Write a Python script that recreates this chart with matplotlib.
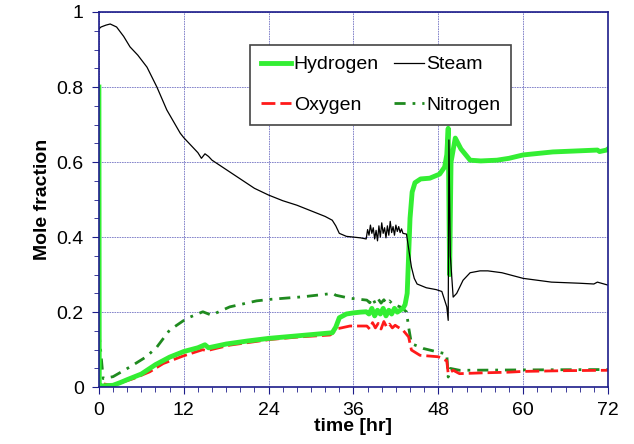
import matplotlib.pyplot as plt
from matplotlib.ticker import MultipleLocator

plt.rcParams['font.family'] = ['Liberation Sans', 'DejaVu Sans']

# Steam mole fraction
t_steam = [0, 0.3, 1, 1.6, 2.5, 3.5, 4.4, 5.5, 6.8, 8.2, 9.6, 11.5, 12, 13, 14, 14.5, 15,
           15.5, 16, 18, 20, 22, 24, 26, 28, 30, 32, 33, 33.5, 34, 35, 36, 37, 37.8, 38.0,
           38.2, 38.4, 38.6, 38.8, 39.0, 39.2, 39.4, 39.6, 39.8, 40.0, 40.2, 40.4, 40.6, 40.8,
           41.0, 41.2, 41.4, 41.6, 41.8, 42.0, 42.2, 42.4, 42.6, 42.8, 43.0, 43.5, 43.8, 44.2,
           44.6, 45, 46.3, 47.7, 48.5, 49.2, 49.4, 49.5, 49.7, 50.1, 50.6, 51.5, 52.5, 53.9,
           55, 57, 60, 62, 64, 68, 70, 70.5, 72]
steam = [0.955, 0.96, 0.965, 0.968, 0.96, 0.935, 0.907, 0.885, 0.853, 0.80, 0.739, 0.677,
         0.665, 0.645, 0.625, 0.61, 0.622, 0.615, 0.605, 0.58, 0.555, 0.53, 0.512, 0.497,
         0.485, 0.47, 0.455, 0.445, 0.43, 0.41, 0.402, 0.40, 0.398, 0.395, 0.42, 0.405, 0.432,
         0.41, 0.425, 0.395, 0.418, 0.39, 0.43, 0.40, 0.438, 0.41, 0.425, 0.398, 0.43, 0.405,
         0.442, 0.412, 0.428, 0.405, 0.432, 0.415, 0.428, 0.412, 0.422, 0.41, 0.408, 0.37,
         0.32, 0.29, 0.275, 0.265, 0.26, 0.255, 0.214, 0.178, 0.659, 0.35, 0.24, 0.25, 0.285,
         0.305, 0.31, 0.31, 0.305, 0.29, 0.285, 0.28, 0.277, 0.275, 0.28, 0.272]

# Hydrogen mole fraction
t_h2 = [0, 0.05, 0.2, 1, 2, 3, 4, 6, 8, 10, 12, 14, 15, 15.5, 18, 21, 24, 27, 30, 33, 33.5,
        34, 35, 36, 37, 37.8, 38.2, 38.6, 39, 39.4, 39.8, 40.2, 40.6, 41, 41.4, 41.8, 42.2,
        42.6, 43, 43.3, 43.6, 43.8, 44, 44.3, 44.7, 45.5, 46.8, 48.2, 48.9, 49.2, 49.4,
        49.6, 49.8, 50.4, 51.2, 52.5, 54, 56.3, 58, 60, 64.2, 68, 70.5, 70.8, 71.8, 72]
h2 = [0.8, 0.005, 0.003, 0.004, 0.005, 0.012, 0.02, 0.035, 0.06, 0.08, 0.095, 0.105, 0.113,
      0.105, 0.115, 0.123, 0.13, 0.135, 0.14, 0.145, 0.16, 0.185, 0.195, 0.198, 0.20, 0.201,
      0.195, 0.21, 0.19, 0.205, 0.195, 0.21, 0.19, 0.205, 0.195, 0.21, 0.2, 0.205, 0.21,
      0.22, 0.25, 0.35, 0.45, 0.52, 0.545, 0.555, 0.557, 0.568, 0.587, 0.62, 0.69, 0.30,
      0.60, 0.664, 0.635, 0.605, 0.603, 0.605, 0.61, 0.619, 0.627, 0.63, 0.632, 0.628,
      0.632, 0.635]

# Oxygen mole fraction
t_o2 = [0, 0.1, 2, 4.9, 7.2, 9.1, 11.9, 14.7, 15.2, 18.5, 24.2, 28.4, 32.7, 33.1, 33.8,
        35.5, 37.9, 38.3, 38.7, 39.1, 39.5, 39.9, 40.3, 40.7, 41.1, 41.5, 41.9, 42.3, 43,
        43.8, 44.2, 45.4, 48, 49.2, 49.4, 50.1, 51, 54, 58, 60, 66, 72]
o2 = [0.2, 0.01, 0.005, 0.023, 0.041, 0.063, 0.083, 0.1, 0.097, 0.112, 0.127, 0.134, 0.139,
      0.145, 0.156, 0.163, 0.163, 0.155, 0.172, 0.158, 0.17, 0.155, 0.175, 0.16, 0.168,
      0.158, 0.165, 0.16, 0.152, 0.134, 0.099, 0.085, 0.081, 0.07, 0.036, 0.045, 0.036,
      0.038, 0.04, 0.042, 0.044, 0.045]

# Nitrogen mole fraction
t_n2 = [0, 0.6, 2, 4.4, 6.7, 8.2, 10, 12.4, 14.7, 15.9, 18.5, 22.3, 24.2, 28.9, 33.1, 33.5,
        35.5, 37.9, 38.3, 38.7, 39.1, 39.5, 39.9, 40.3, 40.7, 41.1, 41.5, 42.6, 43.5, 43.8,
        44.2, 45.9, 49.2, 49.4, 49.7, 51, 60, 72]
n2 = [0.15, 0.023, 0.028, 0.054, 0.081, 0.107, 0.152, 0.183, 0.201, 0.192, 0.214, 0.23,
      0.234, 0.241, 0.25, 0.245, 0.237, 0.232, 0.225, 0.238, 0.222, 0.235, 0.224, 0.233,
      0.222, 0.23, 0.222, 0.214, 0.201, 0.16, 0.116, 0.103, 0.088, 0.027, 0.05, 0.045,
      0.046, 0.047]

navy = '#1c1c8a'
fs = 14

fig = plt.figure(figsize=(6.34, 4.44), dpi=100)
ax = fig.add_axes([0.156, 0.128, 0.803, 0.845])

ax.plot(t_n2, n2, color='#1f8a1f', lw=2, dashes=(4, 2.5, 1, 2.5), label='Nitrogen')
ax.plot(t_o2, o2, color='#ff1a1a', lw=2, dashes=(5, 1.8), label='Oxygen')
ax.plot(t_h2, h2, color='#33ee33', lw=3.5, label='Hydrogen')
ax.plot(t_steam, steam, color='black', lw=0.9, label='Steam')

ax.set_xlim(0, 72)
ax.set_ylim(0, 1)
ax.xaxis.set_major_locator(MultipleLocator(12))
ax.xaxis.set_minor_locator(MultipleLocator(2))
ax.yaxis.set_minor_locator(MultipleLocator(0.05))
ax.set_yticks([0, 0.2, 0.4, 0.6, 0.8, 1])
ax.set_yticklabels(['0', '0.2', '0.4', '0.6', '0.8', '1'])

ax.grid(True, which='major', color='#7373c4', lw=0.6, ls=(0, (2, 1)))
for s in ax.spines.values():
    s.set_color(navy)
    s.set_linewidth(1.2)
ax.tick_params(which='both', direction='out', color=navy, labelsize=fs, labelcolor='black')
ax.tick_params(which='major', length=5)
ax.tick_params(which='minor', length=3.5)
ax.tick_params(axis='y', pad=6)
ax.tick_params(axis='x', pad=6)

ax.set_xlabel('time [hr]', fontsize=fs, fontweight='bold', labelpad=-1)
ax.set_ylabel('Mole fraction', fontsize=fs, fontweight='bold', labelpad=4)

handles, labels = ax.get_legend_handles_labels()
order = [2, 1, 3, 0]
leg = ax.legend([handles[i] for i in order], [labels[i] for i in order], ncol=2,
                loc='upper left', bbox_to_anchor=(0.297, 0.912), borderaxespad=0,
                fontsize=fs, fancybox=False, framealpha=1, edgecolor='#444444',
                handlelength=1.55, columnspacing=0.75, handletextpad=0.15,
                labelspacing=1.2, borderpad=0.55)
leg.get_frame().set_linewidth(1.2)

fig.savefig('out.png', dpi=100)
